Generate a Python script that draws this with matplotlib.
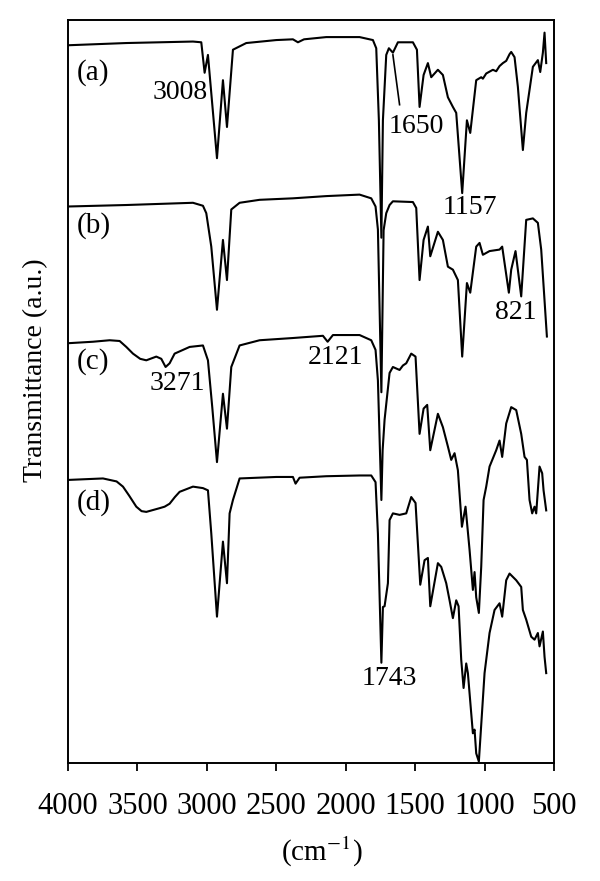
import numpy as np
import matplotlib
matplotlib.use("Agg")
import matplotlib.pyplot as plt

plt.rcParams['font.family'] = ['Liberation Serif', 'DejaVu Serif']
plt.rcParams['mathtext.fontset'] = 'stix'

# FTIR spectra, wavenumber (cm-1) and transmittance (a.u., stacked)
wn_a = [4000, 3580, 3100, 3040, 3016, 2992, 2927, 2884, 2855, 2812, 2716, 2500, 2380, 2344, 2300,
        2140, 1900, 1804, 1780, 1761, 1743, 1732, 1708, 1689, 1660, 1624, 1516, 1487, 1468, 1439,
        1408, 1384, 1336, 1300, 1264, 1228, 1204, 1161, 1127, 1103, 1060, 1024, 1012, 988, 940,
        916, 892, 868, 844, 820, 808, 784, 760, 724, 700, 652, 616, 599, 580, 568, 556]
tr_a = [96.6, 96.9, 97.1, 97.0, 92.9, 95.3, 81.4, 91.9, 85.6, 96.0, 96.9, 97.3, 97.4, 97.0, 97.4,
        97.7, 97.7, 97.3, 96.2, 86.5, 70.7, 86.5, 95.3, 96.2, 95.6, 97.0, 97.0, 96.0, 88.3, 92.6,
        94.2, 92.3, 93.3, 92.6, 89.6, 88.3, 87.5, 76.7, 86.5, 84.8, 91.9, 92.3, 92.1, 92.8, 93.3,
        93.1, 93.8, 94.2, 94.5, 95.4, 95.7, 95.0, 91.0, 82.5, 87.5, 93.7, 94.6, 93.0, 95.6, 98.3, 94.2]

wn_b = [4000, 3580, 3100, 3028, 3004, 2968, 2927, 2884, 2855, 2824, 2764, 2620, 2380, 2140, 1900,
        1816, 1785, 1768, 1743, 1727, 1708, 1684, 1660, 1516, 1492, 1468, 1439, 1408, 1391, 1336,
        1300, 1264, 1228, 1192, 1161, 1127, 1103, 1060, 1036, 1012, 964, 892, 873, 825, 808, 777,
        736, 700, 652, 616, 592, 551]
tr_b = [74.9, 75.1, 75.4, 75.0, 74.0, 69.5, 61.0, 70.4, 65.0, 74.5, 75.4, 75.8, 76.0, 76.3, 76.5,
        76.0, 74.9, 71.8, 49.9, 71.7, 74.0, 75.1, 75.6, 75.5, 74.7, 65.0, 70.4, 72.2, 68.2, 71.5,
        70.4, 66.8, 66.4, 65.0, 54.7, 64.6, 63.3, 69.5, 70.0, 68.4, 68.9, 69.1, 69.5, 63.3, 66.4,
        68.9, 62.8, 73.1, 73.3, 72.7, 69.1, 57.4]

wn_c = [4000, 3820, 3700, 3628, 3580, 3532, 3480, 3436, 3364, 3328, 3297, 3268, 3232, 3124, 3028,
        2992, 2961, 2927, 2884, 2855, 2824, 2764, 2620, 2380, 2164, 2130, 2092, 1900, 1816, 1785,
        1768, 1743, 1734, 1720, 1684, 1660, 1636, 1612, 1588, 1564, 1528, 1497, 1468, 1439, 1413,
        1391, 1336, 1300, 1264, 1240, 1216, 1192, 1163, 1137, 1108, 1084, 1072, 1060, 1041, 1024,
        1007, 988, 964, 916, 892, 873, 844, 808, 772, 736, 712, 695, 676, 657, 640, 628, 604, 585,
        575, 556]
tr_c = [56.5, 56.7, 56.9, 56.8, 56.0, 55.1, 54.4, 54.2, 54.7, 54.4, 53.3, 53.8, 55.1, 56.0, 56.2,
        54.2, 47.9, 40.5, 49.7, 45.0, 53.3, 56.2, 56.9, 57.2, 57.5, 56.7, 57.6, 57.6, 56.9, 55.6,
        51.5, 35.4, 42.1, 46.2, 52.5, 53.3, 53.1, 52.9, 53.5, 53.8, 55.1, 54.7, 44.3, 47.7, 48.2,
        42.1, 47.0, 45.2, 42.6, 40.8, 41.7, 39.4, 31.8, 34.5, 28.7, 23.3, 25.7, 22.3, 20.2, 26.4,
        35.4, 37.2, 39.9, 42.1, 43.4, 41.2, 45.7, 47.9, 47.5, 44.3, 41.2, 40.8, 35.4, 33.6, 34.5,
        33.6, 39.9, 39.0, 36.7, 34.0]

wn_d = [4000, 3748, 3650, 3604, 3560, 3508, 3470, 3436, 3340, 3304, 3268, 3230, 3196, 3100, 3028,
        2992, 2968, 2927, 2884, 2855, 2836, 2812, 2764, 2500, 2380, 2361, 2332, 2140, 1900, 1816,
        1785, 1768, 1743, 1732, 1720, 1696, 1684, 1660, 1612, 1564, 1528, 1497, 1463, 1432, 1408,
        1391, 1336, 1312, 1276, 1252, 1228, 1204, 1187, 1168, 1151, 1132, 1120, 1084, 1072, 1060,
        1041, 1000, 964, 928, 892, 873, 844, 820, 772, 736, 724, 700, 664, 640, 616, 604, 580,
        568, 556]
tr_d = [38.1, 38.3, 37.9, 37.2, 36.0, 34.5, 33.9, 33.8, 34.3, 34.5, 34.9, 35.8, 36.5, 37.2, 37.0,
        36.7, 30.9, 19.7, 29.8, 24.2, 33.6, 35.4, 38.3, 38.5, 38.5, 37.6, 38.4, 38.6, 38.7, 38.7,
        37.8, 30.9, 13.5, 21.0, 21.1, 24.2, 32.7, 33.6, 33.4, 33.6, 35.8, 35.0, 24.0, 27.3, 27.6,
        21.1, 26.9, 26.4, 24.2, 21.9, 19.5, 21.9, 21.1, 13.9, 10.1, 13.4, 12.1, 4.0, 4.5, 1.3,
        0.2, 12.1, 17.5, 20.6, 21.5, 19.7, 24.6, 25.5, 24.6, 23.7, 20.6, 19.3, 17.0, 16.6, 17.5,
        15.7, 17.7, 14.3, 12.1]

curve_names = ["(a)", "(b)", "(c)", "(d)"]
name_levels = [92.9, 72.4, 54.0, 35.0]

peak_labels = ["3008", "1650", "1157", "821", "2121", "3271", "1743"]
peak_wn = [3190, 1492, 1105, 777, 2073, 3215, 1689]
peak_tr = [90.3, 85.6, 74.8, 60.7, 54.6, 51.1, 11.4]

fig = plt.figure(figsize=(6, 8.81), dpi=100)
ax = fig.add_axes([0.1133, 0.1339, 0.81, 0.8434])

for wn, tr in [(wn_a, tr_a), (wn_b, tr_b), (wn_c, tr_c), (wn_d, tr_d)]:
    ax.plot(wn, tr, color='black', lw=1.5, solid_joinstyle='round')

for name, lev in zip(curve_names, name_levels):
    ax.text(3940, lev, name, fontsize=21, ha='left', va='center')

for lab, w, t in zip(peak_labels, peak_wn, peak_tr):
    ax.text(w, t, lab, fontsize=20, ha='center', va='center')

# leader line for the 1650 band
ax.plot([1660, 1612], [95.3, 88.6], color='black', lw=1.2)

ax.set_xlim(4000, 500)
ax.set_ylim(0, 100)
ax.set_xticks(np.arange(4000, 499, -500))
ax.set_yticks([])
ax.tick_params(axis='x', direction='out', length=6, width=1.3, labelsize=22, pad=15)
for sp in ax.spines.values():
    sp.set_linewidth(1.4)

fig.text(36 / 600, 1 - 370 / 881, "Transmittance (a.u.)", rotation=90,
         ha='center', va='center', fontsize=20)
fig.text(322 / 600, 1 - 852 / 881, r"(cm$^{-1}$)", ha='center', va='center', fontsize=21)

fig.savefig("out.png", dpi=100)
